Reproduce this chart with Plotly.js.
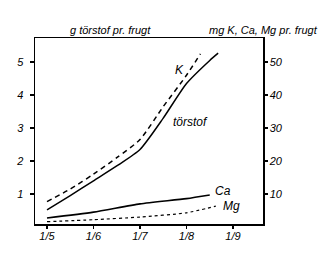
<!DOCTYPE html>
<html>
<head>
<meta charset="utf-8">
<script src="https://cdn.plot.ly/plotly-3.0.1.min.js"></script>
<style>html,body{margin:0;padding:0;background:#fff}#chart{width:334px;height:262px}</style>
</head>
<body>
<div id="chart"></div>
<script>
// month positions: 5 = 1/5, 6 = 1/6, ... 9 = 1/9
const tickMonths = [5, 6, 7, 8, 9];
const tickLabels = ["1/5", "1/6", "1/7", "1/8", "1/9"];

// g dry matter (törstof) per fruit, left axis
const torstofX = [5.0, 5.5, 6.0, 6.5, 7.0, 7.5, 8.0, 8.5, 8.68];
const torstofY = [0.52, 0.95, 1.4, 1.85, 2.35, 3.3, 4.35, 5.05, 5.27];

// mg per fruit, right axis
const kX = [5.0, 5.5, 6.0, 6.5, 7.0, 7.5, 8.0, 8.3];
const kY = [7.7, 11.5, 16, 21, 26.5, 36.5, 46, 52.5];

const caX = [5.0, 6.0, 7.0, 8.0, 8.5];
const caY = [2.7, 4.5, 7.0, 8.6, 9.7];

const mgX = [5.0, 6.0, 7.0, 8.0, 8.63];
const mgY = [1.6, 2.2, 3.0, 4.3, 6.3];

const leftTicks = [1, 2, 3, 4, 5];
const rightTicks = [10, 20, 30, 40, 50];

const FONT = "Liberation Sans, DejaVu Sans, sans-serif";
const line = (dash, w) => ({color: "#000", width: w || 1.5, dash: dash, shape: "spline", smoothing: 0.6});

const traces = [
  {x: torstofX, y: torstofY, mode: "lines", line: line("solid"), yaxis: "y", hoverinfo: "skip"},
  {x: kX, y: kY, mode: "lines", line: line("5px,4px"), yaxis: "y2", hoverinfo: "skip"},
  {x: caX, y: caY, mode: "lines", line: line("solid", 1.6), yaxis: "y2", hoverinfo: "skip"},
  {x: mgX, y: mgY, mode: "lines", line: line("3px,3px", 1.2), yaxis: "y2", hoverinfo: "skip"}
];

const ann = (x, y, text, extra) => Object.assign({x: x, y: y, text: text, showarrow: false,
  font: {family: FONT, size: 12, color: "#000", style: "italic"}}, extra || {});

const titleFont = {family: FONT, size: 11, style: "italic", color: "#000"};

const layout = {
  width: 334, height: 262,
  margin: {l: 35, r: 71, t: 38, b: 38, pad: 0},
  paper_bgcolor: "#fff", plot_bgcolor: "#fff",
  showlegend: false,
  font: {family: FONT, size: 11, color: "#000"},
  xaxis: {
    range: [4.742, 9.645], tickvals: tickMonths, ticktext: tickLabels,
    showgrid: false, zeroline: false, showline: true, linecolor: "#000", linewidth: 1.5,
    mirror: true, ticks: "outside", ticklen: 3, tickcolor: "#000", tickwidth: 1.2,
    ticklabelstandoff: -2,
    tickfont: {family: FONT, size: 11, style: "italic"}
  },
  yaxis: {
    range: [0.09, 5.73], tickvals: leftTicks,
    showgrid: false, zeroline: false, showline: true, linecolor: "#000", linewidth: 1.5,
    ticks: "outside", ticklen: 4, tickcolor: "#000", tickwidth: 1.2, ticklabelstandoff: 4,
    tickfont: {family: FONT, size: 11, style: "italic"}
  },
  yaxis2: {
    range: [0.9, 57.3], tickvals: rightTicks, overlaying: "y", side: "right",
    showgrid: false, zeroline: false, showline: true, linecolor: "#000", linewidth: 1.5,
    ticks: "outside", ticklen: 3, tickcolor: "#000", tickwidth: 1.2,
    tickfont: {family: FONT, size: 11, style: "italic"}
  },
  annotations: [
    ann(0.145, 1.043, "g törstof pr. frugt", {xref: "paper", yref: "paper", yanchor: "middle", font: titleFont}),
    ann(1.004, 1.043, "mg K, Ca, Mg pr. frugt", {xref: "paper", yref: "paper", xanchor: "center", yanchor: "middle", font: titleFont}),
    ann(7.86, 4.76, "K", {xref: "x", yref: "y"}),
    ann(8.08, 3.18, "törstof", {xref: "x", yref: "y"}),
    ann(8.78, 1.09, "Ca", {xref: "x", yref: "y"}),
    ann(8.96, 0.64, "Mg", {xref: "x", yref: "y"})
  ]
};

Plotly.newPlot("chart", traces, layout, {staticPlot: true, displayModeBar: false});
</script>
</body>
</html>
